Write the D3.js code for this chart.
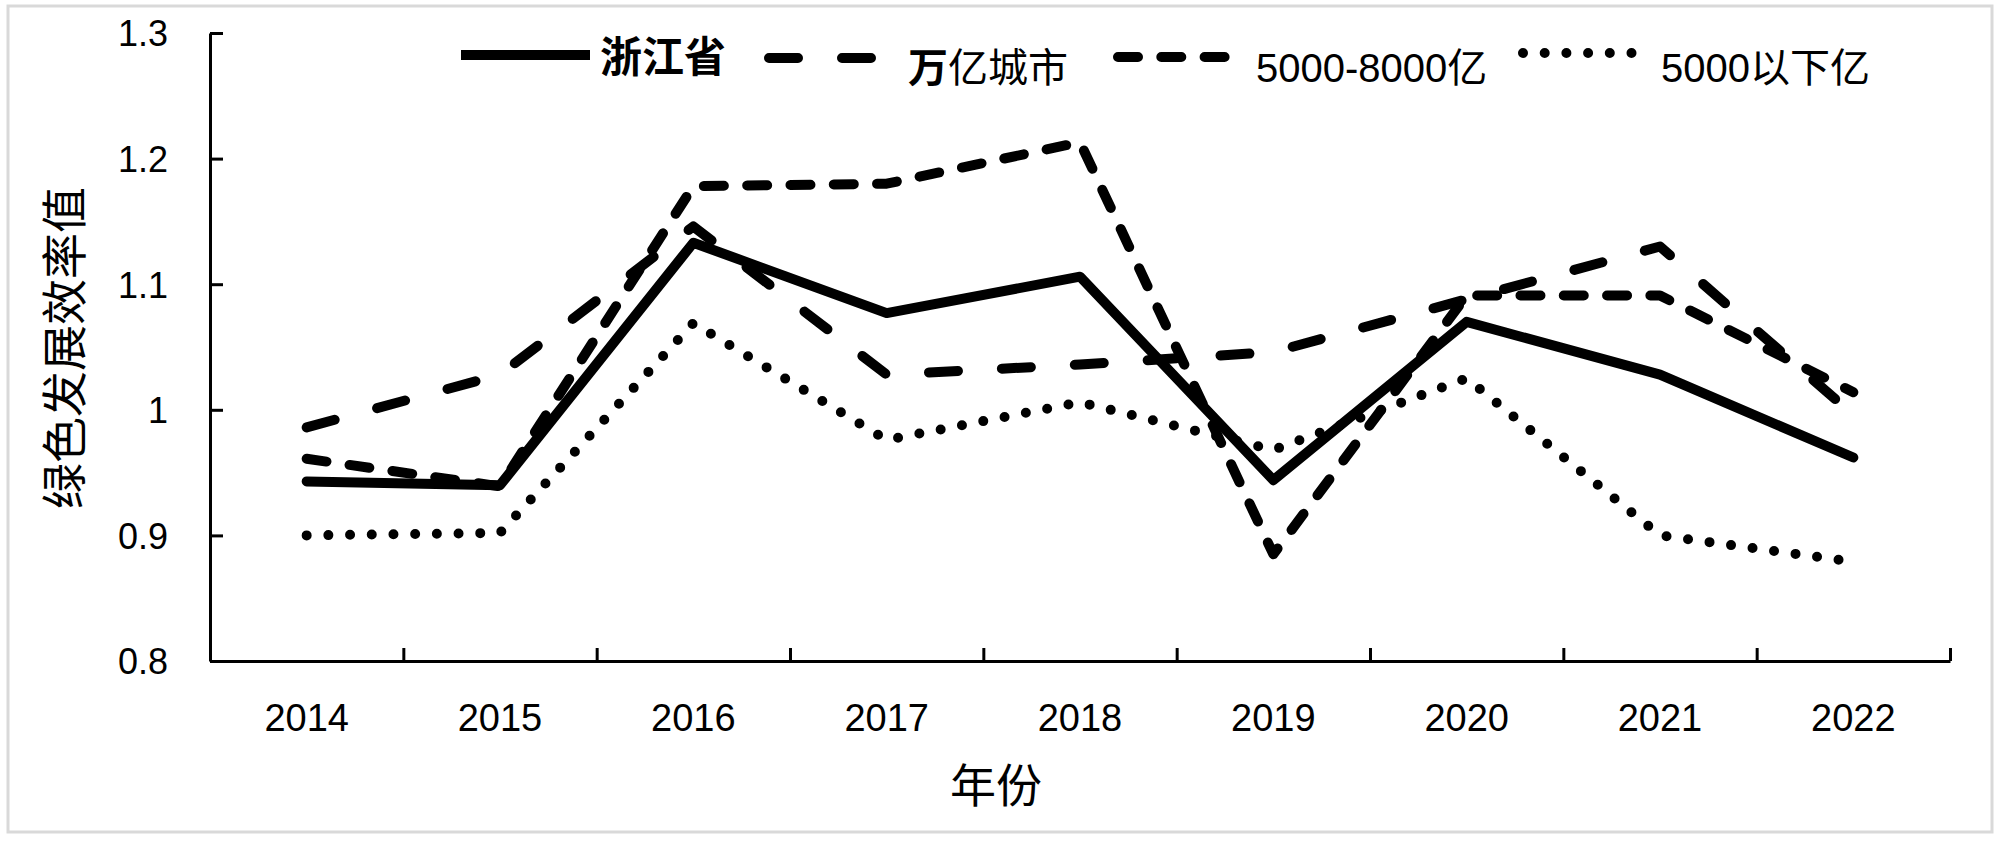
<!DOCTYPE html>
<html>
<head>
<meta charset="utf-8">
<script src="https://cdnjs.cloudflare.com/ajax/libs/d3/7.8.5/d3.min.js"></script>
<style>
body{margin:0;background:#fff;}
svg{display:block;}
</style>
</head>
<body>
<div class="chart"></div>
<script>
var years=['2014','2015','2016','2017','2018','2019','2020','2021','2022'];
var zhejiang=[0.943,0.940,1.133,1.077,1.106,0.944,1.070,1.028,0.962];
var wanyi=[0.986,1.028,1.146,1.028,1.036,1.046,1.088,1.130,0.996];
var mid=[0.961,0.939,1.178,1.180,1.213,0.885,1.091,1.091,1.014];
var low=[0.900,0.902,1.069,0.976,1.006,0.968,1.025,0.900,0.879];
var seriesNames=['浙江省','万亿城市','5000-8000亿','5000以下亿'];
var yTicks=[0.8,0.9,1,1.1,1.2,1.3];
var yLabels=['0.8','0.9','1','1.1','1.2','1.3'];
var yTitle='绿色发展效率值';
var xTitle='年份';

var width=2000, height=844;
var numfont="'Liberation Sans','Noto Sans CJK SC',sans-serif";
var cjkfont="'Noto Sans CJK SC',sans-serif";

// line looks: solid, long dash, dense dash, round dots
var styles=[
  {dash:null, width:10},
  {dash:'29,44', width:10},
  {dash:'20,23.3', width:10},
  {dash:'0,21.7', width:10}
];

var svg=d3.select('.chart').append('svg').attr('width',width).attr('height',height);

// chart area frame
svg.append('rect')
  .attr('x',8).attr('y',6).attr('width',1984).attr('height',826)
  .attr('fill','none').attr('stroke','#d9d9d9').attr('stroke-width',3);

var xband=d3.scaleBand().domain(years).range([210,1950]);
var xedge=d3.scaleLinear().domain([0,years.length]).range([210,1950]);
var y=d3.scaleLinear().domain([0.8,1.3]).range([661,33]);

// y axis, ticks inside
var yaxis=svg.append('g').attr('transform','translate(210,0)')
  .call(d3.axisLeft(y).tickValues(yTicks).tickSizeInner(-13).tickSizeOuter(0).tickPadding(42)
    .tickFormat(function(d,i){return yLabels[i];}));
yaxis.select('.domain').attr('stroke','#000').attr('stroke-width',3);
yaxis.selectAll('.tick line').attr('stroke','#000').attr('stroke-width',3);
yaxis.selectAll('text').attr('fill','#000').style('font-family',numfont).style('font-size','36px').attr('dy','0.36em');

// x axis: ticks between categories
var xaxis=svg.append('g').attr('transform','translate(0,661)')
  .call(d3.axisBottom(xedge).tickValues(d3.range(1,years.length+1)).tickSizeInner(-13).tickSizeOuter(0).tickFormat(''));
xaxis.select('.domain').attr('stroke','#000').attr('stroke-width',3);
xaxis.selectAll('.tick line').attr('stroke','#000').attr('stroke-width',3);

svg.append('g').selectAll('text').data(years).enter()
  .append('text')
  .attr('x',function(d){return xband(d)+xband.bandwidth()/2;})
  .attr('y',731)
  .attr('text-anchor','middle')
  .style('font-family',numfont).style('font-size','38px')
  .text(function(d){return d;});

// titles
svg.append('text')
  .attr('transform','translate(61,348) rotate(-90)')
  .attr('text-anchor','middle').attr('dominant-baseline','central')
  .style('font-family',cjkfont).style('font-size','46px')
  .text(yTitle);

svg.append('text')
  .attr('x',996).attr('y',782)
  .attr('text-anchor','middle').attr('dominant-baseline','central')
  .style('font-family',cjkfont).style('font-size','46px')
  .text(xTitle);

// series lines
var allseries=[zhejiang,wanyi,mid,low];
var line=d3.line()
  .x(function(d,i){return xband(years[i])+xband.bandwidth()/2;})
  .y(function(d){return y(d);});

allseries.forEach(function(s,k){
  var p=svg.append('path')
    .datum(s)
    .attr('d',line)
    .attr('fill','none')
    .attr('stroke','#000')
    .attr('stroke-width',styles[k].width)
    .attr('stroke-linecap','round')
    .attr('stroke-linejoin','round');
  if(styles[k].dash) p.attr('stroke-dasharray',styles[k].dash);
});

// legend
var legend=[
  {x1:461,x2:590,ly:55,tx:600,ty:57,size:42,bold:true},
  {x1:769,x2:880,ly:58,tx:908,ty:68,size:40,bold:false},
  {x1:1118,x2:1225,ly:57,tx:1256,ty:68,size:40,bold:false},
  {x1:1523,x2:1632,ly:53,tx:1661,ty:68,size:40,bold:false}
];
var lg=svg.append('g');
legend.forEach(function(l,k){
  var ln=lg.append('line')
    .attr('x1',l.x1).attr('x2',l.x2).attr('y1',l.ly).attr('y2',l.ly)
    .attr('stroke','#000').attr('stroke-width',styles[k].width)
    .attr('stroke-linecap',k==0?'butt':'round');
  if(styles[k].dash) ln.attr('stroke-dasharray',styles[k].dash);
  var t=lg.append('text')
    .attr('x',l.tx).attr('y',l.ty)
    .attr('dominant-baseline','central')
    .style('font-family',numfont).style('font-size',l.size+'px')
    .style('font-weight',l.bold?'bold':'normal');
  if(k==1){
    t.append('tspan').style('font-weight','bold').text(seriesNames[k].slice(0,1));
    t.append('tspan').text(seriesNames[k].slice(1));
  } else {
    t.text(seriesNames[k]);
  }
});
</script>
</body>
</html>
